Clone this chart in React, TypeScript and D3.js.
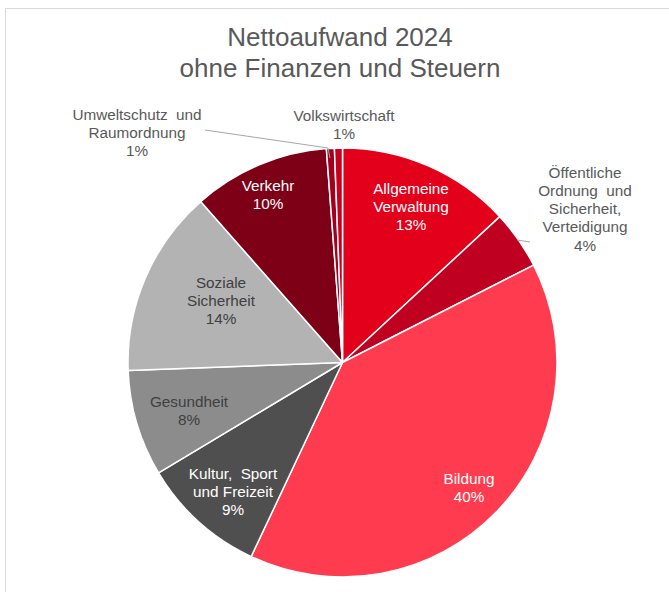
import React from "react";
import * as d3 from "d3";

const categories = [
  "Allgemeine Verwaltung",
  "Öffentliche Ordnung und Sicherheit, Verteidigung",
  "Bildung",
  "Kultur, Sport und Freizeit",
  "Gesundheit",
  "Soziale Sicherheit",
  "Verkehr",
  "Umweltschutz und Raumordnung",
  "Volkswirtschaft",
];
const values = [13.1, 4.4, 39.5, 9.4, 8.0, 14.1, 10.3, 0.6, 0.6];
const colors = ["#E2001A", "#C00020", "#FF3B4F", "#4F4F4F", "#8C8C8C", "#B3B3B3", "#7D0016", "#A3001D", "#C8001E"];
const labelLines = [
  ["Allgemeine", "Verwaltung"],
  ["Öffentliche", "Ordnung  und", "Sicherheit,", "Verteidigung"],
  ["Bildung"],
  ["Kultur,  Sport", "und Freizeit"],
  ["Gesundheit"],
  ["Soziale", "Sicherheit"],
  ["Verkehr"],
  ["Umweltschutz  und", "Raumordnung"],
  ["Volkswirtschaft"],
];
const labelColors = ["#fff", "#595959", "#fff", "#fff", "#404040", "#404040", "#fff", "#595959", "#595959"];
// label centre positions (x, y of first line)
const labelPos: [number, number][] = [
  [411, 188], [585, 172], [469, 478], [233, 473], [189, 401], [221, 282], [268, 185], [137, 114], [344, 115],
];

const W = 669, H = 592;
const cx = 342.5, cy = 362.5, R = 214.5;

export default function App() {
  const pie = d3.pie<number>().value((d) => d).sort(null);
  const arcs = pie(values);
  const arc = d3.arc<d3.PieArcDatum<number>>().innerRadius(0).outerRadius(R);
  const total = d3.sum(values);
  const lh = 18.3;
  return (
    <div style={{ position: "absolute", left: 0, top: 0 }}>
      <svg width={W} height={H} style={{ display: "block", fontFamily: "Liberation Sans, Arial, sans-serif" }}>
        <rect x={0} y={0} width={W} height={H} fill="#fff" />
        <rect x={5.5} y={8.5} width={800} height={800} fill="#fff" stroke="#D9D9D9" strokeWidth={1} />
        <text x={340} y={46} textAnchor="middle" fontSize={26} fill="#595959">Nettoaufwand 2024</text>
        <text x={340} y={77} textAnchor="middle" fontSize={26} fill="#595959">ohne Finanzen und Steuern</text>
        <g transform={`translate(${cx},${cy})`}>
          {arcs.map((a, i) => (
            <path key={i} d={arc(a) || ""} fill={colors[i]} stroke="#fff" strokeWidth={1.5} strokeLinejoin="round" />
          ))}
        </g>
        {/* leader lines */}
        <polyline points="205,130 328,148 330,158" fill="none" stroke="#A6A6A6" strokeWidth={1} />
        <polyline points="517,240 530,242" fill="none" stroke="#A6A6A6" strokeWidth={1} />
        {arcs.map((a, i) => {
          const [x, y] = labelPos[i];
          const lines = [...labelLines[i], `${Math.round((values[i] / total) * 100)}%`];
          return (
            <text key={i} textAnchor="middle" fontSize={15.3} fill={labelColors[i]}>
              {lines.map((l, j) => (
                <tspan key={j} x={x} y={y + j * lh + 5.5} style={{ whiteSpace: "pre" }}>{l}</tspan>
              ))}
            </text>
          );
        })}
      </svg>
    </div>
  );
}
